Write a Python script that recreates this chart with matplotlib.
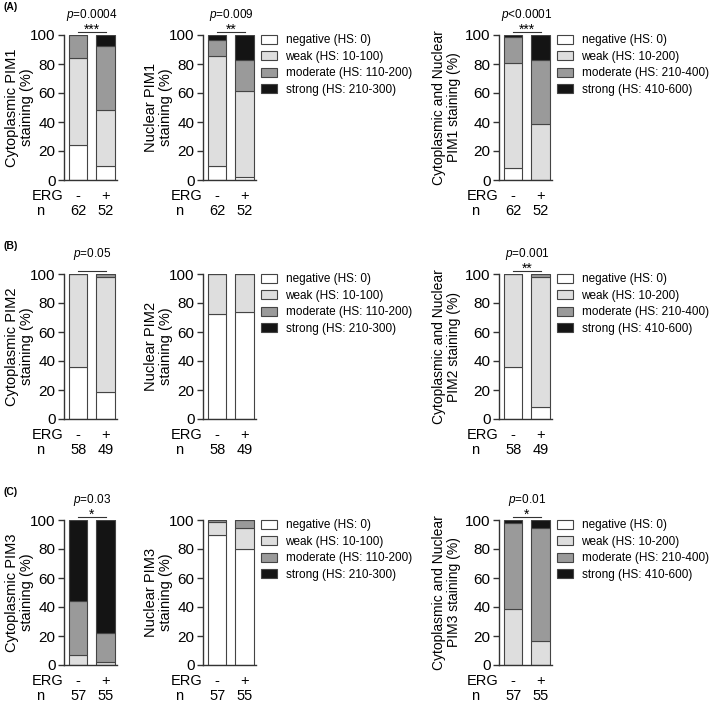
import matplotlib
matplotlib.use('Agg')
import matplotlib.pyplot as plt
from matplotlib.patches import Patch

plt.rcParams['font.family'] = 'Liberation Sans'
plt.rcParams['mathtext.fontset'] = 'custom'
plt.rcParams['mathtext.it'] = 'Liberation Sans:italic'
plt.rcParams['mathtext.rm'] = 'Liberation Sans'

# percentages per group: [negative, weak, moderate, strong]
cyto_pim1 = [[24.2, 59.7, 16.1, 0.0], [9.6, 38.5, 44.2, 7.7]]
nuc_pim1 = [[9.7, 75.8, 11.3, 3.2], [1.9, 59.6, 21.2, 17.3]]
both_pim1 = [[8.1, 72.6, 17.7, 1.6], [0.0, 38.5, 44.2, 17.3]]

cyto_pim2 = [[36.2, 63.8, 0.0, 0.0], [18.4, 79.6, 2.0, 0.0]]
nuc_pim2 = [[72.4, 27.6, 0.0, 0.0], [73.5, 26.5, 0.0, 0.0]]
both_pim2 = [[36.2, 63.8, 0.0, 0.0], [8.2, 89.8, 2.0, 0.0]]

cyto_pim3 = [[0.0, 7.0, 36.8, 56.2], [0.0, 1.8, 20.0, 78.2]]
nuc_pim3 = [[89.5, 8.8, 1.7, 0.0], [80.0, 14.5, 5.5, 0.0]]
both_pim3 = [[0.0, 38.6, 59.6, 1.8], [0.0, 16.4, 78.2, 5.4]]

erg = ['-', '+']
n_pim1 = [62, 52]
n_pim2 = [58, 49]
n_pim3 = [57, 55]

labels_single = ['negative (HS: 0)', 'weak (HS: 10-100)',
                 'moderate (HS: 110-200)', 'strong (HS: 210-300)']
labels_both = ['negative (HS: 0)', 'weak (HS: 10-200)',
               'moderate (HS: 210-400)', 'strong (HS: 410-600)']
colors = ['#ffffff', '#dedede', '#9a9a9a', '#141414']

rows = [
    ('(A)', 'PIM1', [cyto_pim1, nuc_pim1, both_pim1], n_pim1,
     ['$\\mathit{p}$=0.0004', '$\\mathit{p}$=0.009', '$\\mathit{p}$<0.0001'],
     ['***', '**', '***']),
    ('(B)', 'PIM2', [cyto_pim2, nuc_pim2, both_pim2], n_pim2,
     ['$\\mathit{p}$=0.05', None, '$\\mathit{p}$=0.001'],
     ['', None, '**']),
    ('(C)', 'PIM3', [cyto_pim3, nuc_pim3, both_pim3], n_pim3,
     ['$\\mathit{p}$=0.03', None, '$\\mathit{p}$=0.01'],
     ['*', None, '*']),
]

W, H = 709, 705
fig = plt.figure(figsize=(W / 100, H / 100), dpi=100)

col_left = [64, 203, 499]
ax_w = 53
row_bottom = [180, 419, 665]
ax_h = 145
edge = '#444444'
ylab_size = [10.5, 10.5, 10]
ylab_pad = [-3, -3, 3]

for r, (tag, gene, datasets, counts, ptexts, stars) in enumerate(rows):
    fig.text(4 / W, 1 - (row_bottom[r] - ax_h - 28) / H, tag,
             fontsize=7.5, fontweight='bold', va='center', ha='left')
    ylabels = ['Cytoplasmic %s\nstaining (%%)' % gene,
               'Nuclear %s\nstaining (%%)' % gene,
               'Cytoplasmic and Nuclear\n%s staining (%%)' % gene]
    for c in range(3):
        ax = fig.add_axes([col_left[c] / W, 1 - row_bottom[r] / H,
                           ax_w / W, ax_h / H])
        data = datasets[c]
        for g in range(2):
            bottom = 0
            for k in range(4):
                ax.bar(g, data[g][k], bottom=bottom, width=0.67,
                       color=colors[k], edgecolor=edge, linewidth=0.8)
                bottom += data[g][k]
        ax.set_xlim(-0.52, 1.42)
        ax.set_ylim(0, 100)
        ax.set_yticks([0, 20, 40, 60, 80, 100])
        ax.set_xticks([])
        for s in ['top', 'right']:
            ax.spines[s].set_visible(False)
        for s in ['left', 'bottom']:
            ax.spines[s].set_color('#333333')
            ax.spines[s].set_linewidth(1.0)
        ax.tick_params(axis='y', direction='out', length=4, width=1,
                       color='#333333', labelsize=11, pad=2)
        ax.set_ylabel(ylabels[c], fontsize=ylab_size[c],
                      labelpad=ylab_pad[c], linespacing=1.1)

        trans = ax.get_xaxis_transform()
        ax.text(-0.6, -0.11, 'ERG', transform=ax.transAxes,
                fontsize=10.5, ha='left', va='center')
        ax.text(-0.53, -0.215, 'n', transform=ax.transAxes,
                fontsize=10.5, ha='left', va='center')
        for g in range(2):
            ax.text(g, -0.11, erg[g], transform=trans, fontsize=10.5,
                    ha='center', va='center')
            ax.text(g, -0.215, str(counts[g]), transform=trans,
                    fontsize=10.5, ha='center', va='center')

        if ptexts[c] is not None:
            ax.plot([0, 1], [102.3, 102.3], color='#333333', lw=0.8,
                    clip_on=False)
            ax.text(0.5, 114, ptexts[c], fontsize=8.5, ha='center',
                    va='center')
            if stars[c]:
                ax.text(0.5, 103.5, stars[c], fontsize=10, ha='center',
                        va='center')

        if c > 0:
            labs = labels_single if c == 1 else labels_both
            handles = [Patch(facecolor=colors[k], edgecolor=edge,
                             linewidth=0.8) for k in range(4)]
            ax.legend(handles, labs, loc='upper left',
                      bbox_to_anchor=(1.1, 1.005), borderaxespad=0,
                      borderpad=0, frameon=False, fontsize=8.5,
                      handlelength=1.3, handleheight=0.8,
                      handletextpad=0.75, labelspacing=0.38)

fig.savefig('out.png', dpi=100)
